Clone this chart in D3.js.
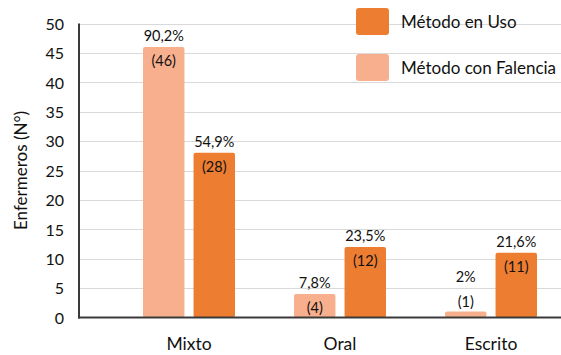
<!DOCTYPE html>
<html><head><meta charset="utf-8">
<script src="https://cdn.jsdelivr.net/npm/d3@7"></script>
<style>body{margin:0;background:#fff}svg{display:block}text{font-family:Lato,"Open Sans",sans-serif;fill:#111}</style>
</head><body>
<svg id="c" width="561" height="355"></svg>
<script>
const categories = ["Mixto", "Oral", "Escrito"];
const seriesNames = ["Método con Falencia", "Método en Uso"];
const falencia = [46, 4, 1];
const enUso = [28, 12, 11];
const falenciaPct = ["90,2%", "7,8%", "2%"];
const enUsoPct = ["54,9%", "23,5%", "21,6%"];
const yTicks = [0, 5, 10, 15, 20, 25, 30, 35, 40, 45, 50];
const legendOrder = ["Método en Uso", "Método con Falencia"];
const colors = {"Método con Falencia": "#F7AF8D", "Método en Uso": "#ED7D31"};

const svg = d3.select("#c");
const y = d3.scaleLinear().domain([0, 50]).range([317.5, 23.5]);
const x = d3.scalePoint().domain(categories).range([189, 491]);
const x1 = d3.scaleBand().domain(seriesNames).range([-46, 46]).paddingInner(0.18);
const axisX = 79, rightX = 561;

// gridlines
svg.append("g").selectAll("line").data(yTicks.filter(d => d > 0)).join("line")
  .attr("x1", axisX).attr("x2", rightX)
  .attr("y1", d => Math.round(y(d)) + 0.5).attr("y2", d => Math.round(y(d)) + 0.5)
  .attr("stroke", "#d9d9d9").attr("stroke-width", 1);

// y axis labels
const yAxis = d3.axisLeft(y).tickValues(yTicks).tickSize(0).tickPadding(0);
const gy = svg.append("g").attr("transform", `translate(64,0)`).call(yAxis);
gy.select(".domain").remove();
gy.selectAll("text").style("font-size", "16px").style("font-family", "Lato,sans-serif").attr("fill", "#111").attr("dy", "0.36em");

// data rows
const rows = categories.map((c, i) => [
  {cat: c, s: seriesNames[0], v: falencia[i], pct: falenciaPct[i]},
  {cat: c, s: seriesNames[1], v: enUso[i], pct: enUsoPct[i]}
]).flat();

const bars = svg.append("g").selectAll("g").data(rows).join("g")
  .attr("transform", d => `translate(${x(d.cat) + x1(d.s)},0)`);
bars.append("rect")
  .attr("x", 0).attr("width", x1.bandwidth())
  .attr("y", d => y(d.v)).attr("height", d => y(0) - y(d.v))
  .attr("rx", 2).attr("fill", d => colors[d.s]);

bars.each(function(d) {
  const g = d3.select(this);
  const cx = x1.bandwidth() / 2;
  const top = y(d.v);
  const small = (y(0) - top) < 15;
  g.append("text").attr("x", cx).attr("y", small ? top - 30 : top - 6)
    .attr("text-anchor", "middle").style("font-size", "14.5px").text(d.pct);
  g.append("text").attr("x", cx).attr("y", small ? top - 5 : top + 19)
    .attr("text-anchor", "middle").style("font-size", "14.5px").text(`(${d.v})`);
});

// axes lines
svg.append("line").attr("x1", axisX).attr("x2", axisX).attr("y1", y(50)).attr("y2", y(0) + 1)
  .attr("stroke", "#3a3a3a").attr("stroke-width", 2);
svg.append("line").attr("x1", axisX - 1).attr("x2", rightX).attr("y1", y(0)).attr("y2", y(0))
  .attr("stroke", "#3a3a3a").attr("stroke-width", 2);

// x labels
svg.append("g").selectAll("text").data(categories).join("text")
  .attr("x", d => x(d)).attr("y", 350).attr("text-anchor", "middle")
  .style("font-size", "17.5px").text(d => d);

// y title
svg.append("text").attr("transform", "translate(26.5,170.5) rotate(-90)")
  .attr("text-anchor", "middle").style("font-size", "17px").text("Enfermeros (N°)");

// legend
const leg = svg.append("g").selectAll("g").data(legendOrder).join("g")
  .attr("transform", (d, i) => `translate(356,${8 + i * 46})`);
leg.append("rect").attr("width", 33).attr("height", 27).attr("rx", 3).attr("fill", d => colors[d]);
leg.append("text").attr("x", 45).attr("y", 19.5).style("font-size", "17px").text(d => d);
</script>
</body></html>
